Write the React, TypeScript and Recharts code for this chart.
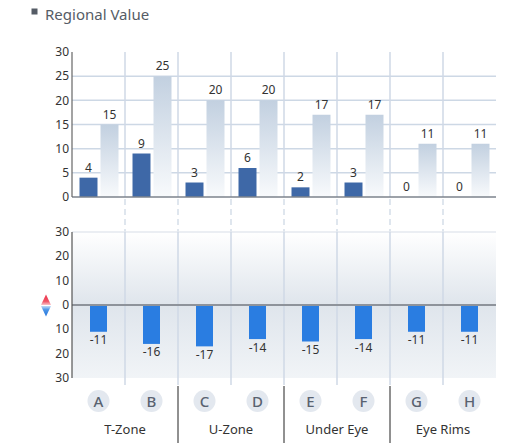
import React from 'react';
import { BarChart, Bar, XAxis, YAxis, CartesianGrid, ReferenceLine, ReferenceArea, LabelList } from 'recharts';

const categories = ['A', 'B', 'C', 'D', 'E', 'F', 'G', 'H'];
const groups = ['T-Zone', 'T-Zone', 'U-Zone', 'U-Zone', 'Under Eye', 'Under Eye', 'Eye Rims', 'Eye Rims'];
const primaryValues = [4, 9, 3, 6, 2, 3, 0, 0];
const totalValues = [15, 25, 20, 20, 17, 17, 11, 11];
const lossValues = [-11, -16, -17, -14, -15, -14, -11, -11];
const topTicks = [0, 5, 10, 15, 20, 25, 30];
const topGridValues = [5, 10, 15, 20, 25];
const bottomTicks = [-30, -20, -10, 0, 10, 20, 30];
const bottomGridValues = [-20, -10, 10, 20];

const FONT = '"Noto Sans", "Open Sans", sans-serif';

const topData = categories.map((c, i) => ({ category: c, primary: primaryValues[i], total: totalValues[i] }));
const bottomData = categories.map((c, i) => ({ category: c, loss: lossValues[i] }));

const groupStarts = categories.filter((c, i) => i > 0 && groups[i] !== groups[i - 1]);
const groupCenters = categories
  .map((c, i) => ({ c, i }))
  .filter(({ i }) => i % 2 === 1)
  .map(({ c, i }) => ({ c, name: groups[i] }));

const innerBoundaries = categories.slice(1);

const TopGridLine = (props: any) => {
  const { x1, y1, x2, y2 } = props;
  const yTop = Math.min(y1, y2);
  const yBot = Math.max(y1, y2);
  return (
    <g>
      <line x1={x1} x2={x2} y1={yTop} y2={yBot} stroke="#cfd9e6" strokeWidth={1.5} />
      <line x1={x1} x2={x2} y1={yBot + 2} y2={yBot + 35} stroke="#d5dee9" strokeWidth={1.5} strokeDasharray="6 4" />
    </g>
  );
};

const BottomGridLine = (props: any) => {
  const { x1, y1, x2, y2 } = props;
  const yTop = Math.min(y1, y2);
  const yBot = Math.max(y1, y2);
  return <line x1={x1} x2={x2} y1={yTop} y2={yBot + 7} stroke="#cfd9e6" strokeWidth={1.5} />;
};

const SeparatorLine = (props: any) => {
  const { x1, y1, y2 } = props;
  const yBot = Math.max(y1, y2);
  return <line x1={x1} x2={x1} y1={yBot + 8} y2={yBot + 66} stroke="#222" strokeWidth={1} />;
};

const makeGroupLabel = (name: string) => (props: any) => {
  const { x1, y1, y2 } = props;
  const yBot = Math.max(y1, y2);
  return (
    <text x={x1} y={yBot + 56} textAnchor="middle" fontSize={13} fill="#333" fontFamily={FONT}>
      {name}
    </text>
  );
};

const LetterTick = (props: any) => {
  const { x, y, payload } = props;
  return (
    <g>
      <circle cx={x} cy={y + 23} r={11} fill="#e3e8ef" />
      <text x={x} y={y + 28.5} textAnchor="middle" fontSize={15} fontWeight={500} fill="#596270" fontFamily={FONT}>
        {payload.value}
      </text>
    </g>
  );
};

const BottomYTick = (props: any) => {
  const { x, y, payload } = props;
  const v = Math.abs(payload.value);
  const cx = x - 23;
  return (
    <g>
      <text x={x} y={y} dy={4} textAnchor="end" fontSize={12} fill="#333" fontFamily={FONT}>
        {v}
      </text>
      {payload.value === 0 && (
        <g>
          <polygon points={`${cx - 5},${y} ${cx + 5},${y} ${cx},${y - 10.5}`} fill="url(#upGrad)" />
          <polygon points={`${cx - 5},${y + 1} ${cx + 5},${y + 1} ${cx},${y + 11.5}`} fill="url(#downGrad)" />
        </g>
      )}
    </g>
  );
};

const TopLabel = (props: any) => {
  const { x, y, width, value } = props;
  return (
    <text x={x + width / 2} y={y - 6} textAnchor="middle" fontSize={12} fill="#333" fontFamily={FONT}>
      {value}
    </text>
  );
};

export default function App() {
  return (
    <div style={{ position: 'absolute', left: 0, top: 0, width: 505, height: 443, background: '#fff', fontFamily: FONT }}>
      <svg width={505} height={30} style={{ position: 'absolute', left: 0, top: 0 }}>
        <rect x={31.5} y={8.5} width={6} height={6} fill="#555c66" />
        <text x={45} y={20} fontSize={15} fill="#555c66" fontFamily={FONT}>
          Regional Value
        </text>
      </svg>

      <div style={{ position: 'absolute', left: 0, top: 0 }}>
        <BarChart
          width={505}
          height={235}
          data={topData}
          margin={{ top: 52, right: 9, left: 0, bottom: 38 }}
          barCategoryGap={7.5}
          barGap={3}
        >
          <defs>
            <linearGradient id="lightBar" x1="0" y1="0" x2="0" y2="1">
              <stop offset="0%" stopColor="#c2d0e0" />
              <stop offset="100%" stopColor="#f8fafc" />
            </linearGradient>
          </defs>
          <CartesianGrid vertical={false} horizontalValues={topGridValues} stroke="#cdd8e5" strokeWidth={1.5} />
          <XAxis dataKey="category" hide />
          <YAxis
            domain={[0, 30]}
            ticks={topTicks}
            interval={0}
            width={72}
            tickLine={false}
            tickSize={3}
            tickMargin={0}
            axisLine={{ stroke: '#666', strokeWidth: 1.2 }}
            tick={{ fontSize: 12, fill: '#333', fontFamily: FONT }}
          />
          {innerBoundaries.map((c) => (
            <ReferenceLine key={'tg' + c} x={c} position="start" shape={TopGridLine} />
          ))}
          <Bar dataKey="primary" fill="#3e68a7" minPointSize={0.01} isAnimationActive={false}>
            <LabelList dataKey="primary" content={TopLabel} />
          </Bar>
          <Bar dataKey="total" fill="url(#lightBar)" isAnimationActive={false}>
            <LabelList dataKey="total" content={TopLabel} />
          </Bar>
          <ReferenceLine y={0} stroke="#7d838c" strokeWidth={1.5} />
        </BarChart>
      </div>

      <div style={{ position: 'absolute', left: 0, top: 200 }}>
        <BarChart
          width={505}
          height={243}
          data={bottomData}
          margin={{ top: 32, right: 9, left: 0, bottom: 0 }}
        >
          <defs>
            <linearGradient id="bgGrad" x1="0" y1="0" x2="0" y2="1">
              <stop offset="0%" stopColor="#ffffff" />
              <stop offset="50%" stopColor="#dfe5ec" />
              <stop offset="100%" stopColor="#f1f4f7" />
            </linearGradient>
            <linearGradient id="upGrad" x1="0" y1="0" x2="0" y2="1">
              <stop offset="0%" stopColor="#ec3349" />
              <stop offset="65%" stopColor="#f05467" />
              <stop offset="100%" stopColor="#f9c3ca" />
            </linearGradient>
            <linearGradient id="downGrad" x1="0" y1="0" x2="0" y2="1">
              <stop offset="0%" stopColor="#c4dcf6" />
              <stop offset="35%" stopColor="#4d96e8" />
              <stop offset="100%" stopColor="#2274dc" />
            </linearGradient>
          </defs>
          <ReferenceArea y1={-30} y2={30} fill="url(#bgGrad)" fillOpacity={1} stroke="none" />
          <CartesianGrid vertical={false} horizontalValues={bottomGridValues} stroke="#c9d4e1" strokeWidth={1.5} />
          <ReferenceLine y={30} stroke="#e4e9ef" strokeWidth={1.5} />
          <XAxis
            dataKey="category"
            axisLine={false}
            tickLine={false}
            tickSize={0}
            tickMargin={0}
            height={65}
            interval={0}
            tick={<LetterTick />}
          />
          <YAxis
            domain={[-30, 30]}
            ticks={bottomTicks}
            interval={0}
            width={72}
            tickLine={false}
            tickSize={3}
            tickMargin={0}
            axisLine={{ stroke: '#555', strokeWidth: 1.2 }}
            tick={<BottomYTick />}
          />
          {innerBoundaries.map((c) => (
            <ReferenceLine key={'bg' + c} x={c} position="start" shape={BottomGridLine} />
          ))}
          {groupStarts.map((c) => (
            <ReferenceLine key={'sep' + c} x={c} position="start" shape={SeparatorLine} />
          ))}
          {groupCenters.map(({ c, name }) => (
            <ReferenceLine key={'gl' + c} x={c} position="start" shape={makeGroupLabel(name)} />
          ))}
          <ReferenceLine y={0} stroke="#8e939b" strokeWidth={2} />
          <Bar dataKey="loss" fill="#2a7de1" barSize={17} isAnimationActive={false}>
            <LabelList dataKey="loss" position="top" offset={4} fontSize={12} fill="#333" fontFamily={FONT} />
          </Bar>
        </BarChart>
      </div>
    </div>
  );
}
